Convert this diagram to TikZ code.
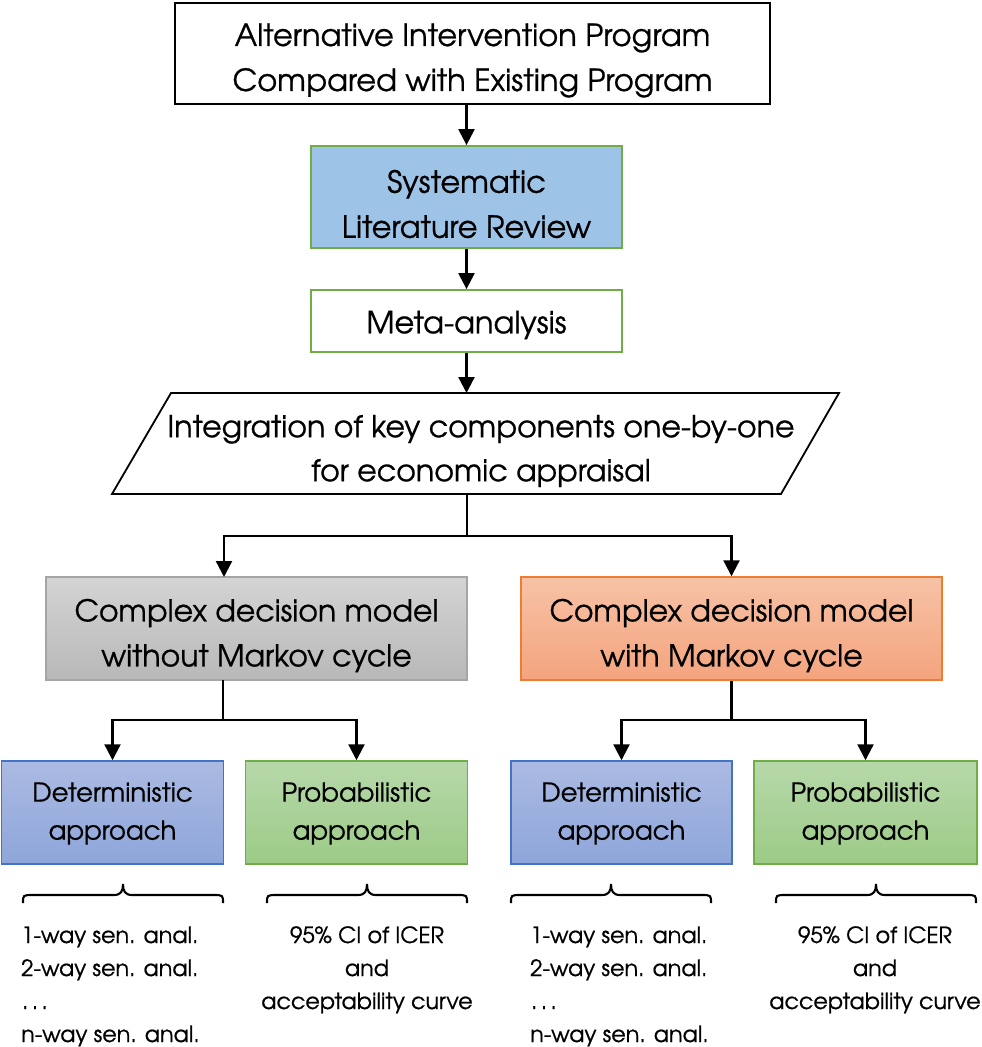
\documentclass[tikz,border=0pt]{standalone}
\usepackage{fontspec}
\setmainfont{texgyreadventor-regular.otf}[FakeBold=0.7]
\usetikzlibrary{arrows.meta}

\definecolor{sysfill}{HTML}{9DC3E6}
\definecolor{grnline}{HTML}{70AD47}
\definecolor{grytop}{HTML}{D4D4D4}
\definecolor{grybot}{HTML}{B8B8B8}
\definecolor{gryline}{HTML}{A5A5A5}
\definecolor{orgtop}{HTML}{F7C2A6}
\definecolor{orgbot}{HTML}{F4A47E}
\definecolor{orgline}{HTML}{ED7D31}
\definecolor{blutop}{HTML}{ABBAE2}
\definecolor{blubot}{HTML}{8EA6DA}
\definecolor{bluline}{HTML}{4472C4}
\definecolor{grntop}{HTML}{B7D8AA}
\definecolor{grnbot}{HTML}{9CCB86}

\tikzset{
  box/.style={rectangle, draw, line width=1.8pt, inner sep=0pt},
  lbl/.style={align=center, inner sep=0pt},
  conn/.style={line width=2.3pt, line join=miter},
  arr/.style={conn, -{Triangle[length=16pt,width=16pt]}},
  bigtxt/.style={font=\fontsize{30.5}{45}\selectfont},
  paratxt/.style={font=\fontsize{30.1}{44}\selectfont},
  midtxt/.style={font=\fontsize{30}{45}\selectfont},
  smalltxt/.style={font=\fontsize{26}{38}\selectfont},
  listtxt/.style={font=\fontsize{22.3}{33}\selectfont, inner sep=0pt},
  detbox/.style={box, line width=1.5pt, draw=bluline, top color=blutop, bottom color=blubot,
                 minimum height=103pt},
  probbox/.style={box, line width=1.5pt, draw=grnline, top color=grntop, bottom color=grnbot,
                  minimum height=103pt},
  brace/.style={line width=2.1pt}
}

% curly brace opening downwards: left end, tip, right end
\newcommand{\drawbrace}[3]{%
  \draw[brace] (#1,903) .. controls (#1,895) .. (#1+10,895) -- (#2-9,895)
    .. controls (#2-2,895) and (#2,891) .. (#2,884)
    .. controls (#2,891) and (#2+2,895) .. (#2+9,895) -- (#3-10,895)
    .. controls (#3,895) .. (#3,903);}

\begin{document}
\begin{tikzpicture}[x=1pt,y=-1pt]
\useasboundingbox (0,0) rectangle (982,1047);

% top-level boxes
\node[box, minimum width=595pt, minimum height=101pt] (top) at (472.5,53.5) {};
\node[lbl, bigtxt] (top-t) at ([yshift=-7pt]top.center)
  {Alternative Intervention Program\\Compared with Existing Program};
\node[box, draw=grnline, fill=sysfill, minimum width=311pt, minimum height=102pt] (sys) at (466.5,197) {};
\node[lbl, bigtxt] (sys-t) at ([yshift=-7pt]sys.center) {Systematic\\Literature Review};
\node[box, draw=grnline, fill=white, minimum width=311pt, minimum height=62pt] (meta) at (466.5,321) {};
\node[lbl, bigtxt] (meta-t) at ([yshift=-4pt]meta.center) {Meta-analysis};

% parallelogram
\coordinate (ptl) at (171,393);
\coordinate (ptr) at (839,393);
\coordinate (pbr) at (781,494);
\coordinate (pbl) at (112,494);
\draw[line width=1.8pt] (ptl) -- (ptr) -- (pbr) -- (pbl) -- cycle;
\node[lbl, paratxt] (integ) at (481,451)
  {Integration of key components one-by-one\\for economic appraisal};
\coordinate (integ-in) at (466.5,393);
\coordinate (integ-out) at (467,494);

% model boxes
\node[box, line width=1.5pt, draw=gryline, top color=grytop, bottom color=grybot,
      minimum width=421pt, minimum height=103pt] (gray) at (256.5,628.5) {};
\node[lbl, midtxt] (gray-t) at ([yshift=-7pt]gray.center) {Complex decision model\\without Markov cycle};
\node[box, line width=1.5pt, draw=orgline, top color=orgtop, bottom color=orgbot,
      minimum width=421pt, minimum height=103pt] (orange) at (731.5,628.5) {};
\node[lbl, midtxt] (orange-t) at ([yshift=-7pt]orange.center) {Complex decision model\\with Markov cycle};

% approach boxes
\node[detbox, minimum width=222pt] (det1) at (112.5,812.5) {};
\node[lbl, smalltxt] (det1-t) at ([yshift=-1pt]det1.center) {Deterministic\\approach};
\node[probbox, minimum width=222pt] (prob1) at (356.5,812.5) {};
\node[lbl, smalltxt] (prob1-t) at ([yshift=-1pt]prob1.center) {Probabilistic\\approach};
\node[detbox, minimum width=221pt] (det2) at (621.5,812.5) {};
\node[lbl, smalltxt] (det2-t) at ([yshift=-1pt]det2.center) {Deterministic\\approach};
\node[probbox, minimum width=223pt] (prob2) at (865.5,812.5) {};
\node[lbl, smalltxt] (prob2-t) at ([yshift=-1pt]prob2.center) {Probabilistic\\approach};

% connectors
\draw[arr] (top.south -| sys.north) -- (sys.north);
\draw[arr] (sys.south) -- (meta.north);
\draw[arr] (meta.south) -- (integ-in);

\coordinate (j1) at (467,536);
\coordinate (gray-in) at (224,577);
\draw[arr] (integ-out) -- (j1) -| (gray-in);
\draw[arr] (j1) -| (orange.north);

\coordinate (gray-out) at (223,680);
\coordinate (j2) at (223,720);
\draw[arr] (gray-out) -- (j2) -| (det1.north);
\draw[arr] (j2) -| (prob1.north);

\coordinate (j3) at (731.5,720);
\draw[arr] (orange.south) -- (j3) -| (det2.north);
\draw[arr] (j3) -| (prob2.north);

% braces
\drawbrace{23}{123}{223}
\drawbrace{267}{367}{467}
\drawbrace{511}{611}{711}
\drawbrace{776}{876}{976}

% sensitivity analyses lists
\node[listtxt, anchor=base west] (d1a) at (21,943) {1-way sen. anal.};
\node[listtxt, anchor=base west] (d1b) at (21,976) {2-way sen. anal.};
\node[listtxt, anchor=base west] (d1c) at (22,1009) {.\kern3.5pt.\kern3.5pt.};
\node[listtxt, anchor=base west] (d1d) at (21,1042) {n-way sen. anal.};

\node[listtxt, anchor=base west] (d2a) at (530,943) {1-way sen. anal.};
\node[listtxt, anchor=base west] (d2b) at (530,976) {2-way sen. anal.};
\node[listtxt, anchor=base west] (d2c) at (531,1009) {.\kern3.5pt.\kern3.5pt.};
\node[listtxt, anchor=base west] (d2d) at (530,1042) {n-way sen. anal.};

\node[listtxt, anchor=base] (p1a) at (367,943) {95\% CI of ICER};
\node[listtxt, anchor=base] (p1b) at (367,976) {and};
\node[listtxt, anchor=base] (p1c) at (367,1009) {acceptability curve};

\node[listtxt, anchor=base] (p2a) at (875,943) {95\% CI of ICER};
\node[listtxt, anchor=base] (p2b) at (875,976) {and};
\node[listtxt, anchor=base] (p2c) at (875,1009) {acceptability curve};
\end{tikzpicture}
\end{document}
